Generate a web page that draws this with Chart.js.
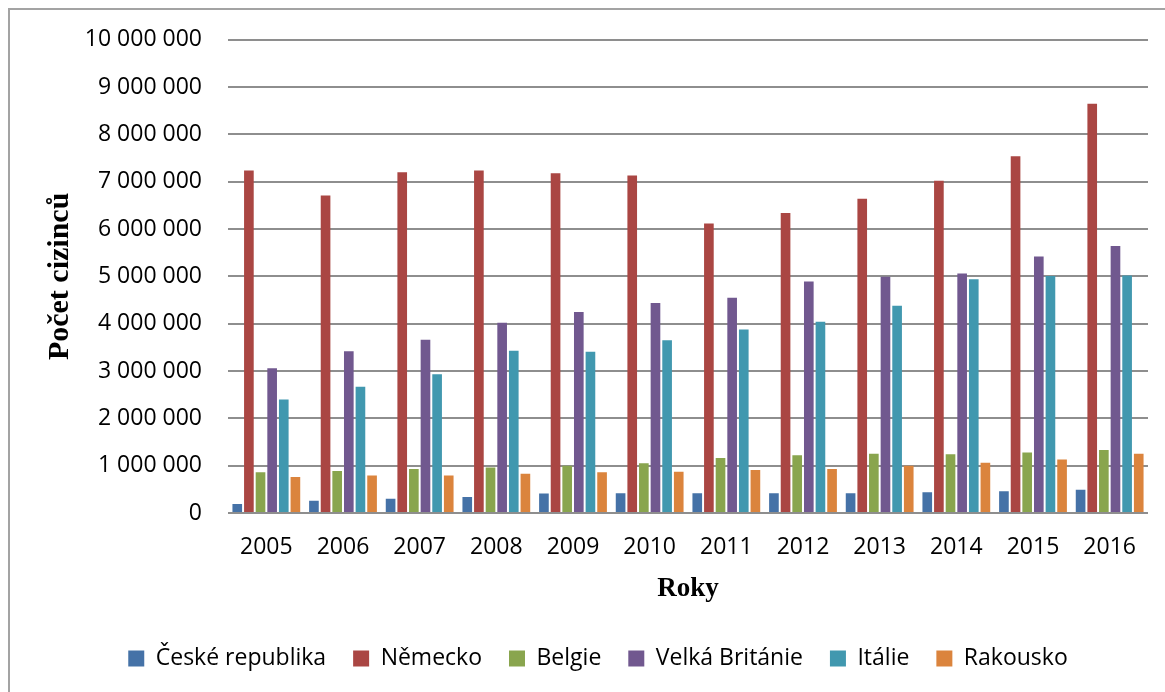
<!DOCTYPE html>
<html>
<head>
<meta charset="utf-8">
<script src="https://cdn.jsdelivr.net/npm/chart.js@4.4.1/dist/chart.umd.min.js"></script>
<style>
  html, body { margin: 0; padding: 0; background: #fff; }
  #wrap { position: relative; width: 1165px; height: 692px; overflow: hidden; }
  #frame { position: absolute; left: 8px; top: 8px; width: 1300px; height: 900px;
           border-left: 2px solid #a3a3a3; border-top: 2px solid #a3a3a3; }
  canvas { position: absolute; left: 0; top: 0; }
</style>
</head>
<body>
<div id="wrap">
  <div id="frame"></div>
  <canvas id="c" width="1165" height="692"></canvas>
</div>
<script>
const years = ['2005','2006','2007','2008','2009','2010','2011','2012','2013','2014','2015','2016'];
const seriesNames = ['České republika','Německo','Belgie','Velká Británie','Itálie','Rakousko'];
const ceskaRepublika = [190000, 260000, 300000, 340000, 410000, 420000, 420000, 420000, 420000, 440000, 460000, 490000];
const nemecko = [7240000, 6710000, 7200000, 7240000, 7180000, 7130000, 6120000, 6340000, 6640000, 7020000, 7540000, 8650000];
const belgie = [860000, 890000, 930000, 960000, 1000000, 1050000, 1160000, 1220000, 1250000, 1240000, 1280000, 1330000];
const velkaBritanie = [3060000, 3420000, 3660000, 4020000, 4250000, 4440000, 4550000, 4890000, 4990000, 5060000, 5420000, 5640000];
const italie = [2400000, 2670000, 2930000, 3430000, 3410000, 3650000, 3880000, 4040000, 4380000, 4940000, 5010000, 5020000];
const rakousko = [760000, 790000, 790000, 830000, 860000, 870000, 910000, 930000, 1000000, 1060000, 1130000, 1250000];
const yTicks = [0,1000000,2000000,3000000,4000000,5000000,6000000,7000000,8000000,9000000,10000000];

const colors = ['#4572A7','#AA4643','#89A54E','#71588F','#4198AF','#DB843D'];
const values = [ceskaRepublika, nemecko, belgie, velkaBritanie, italie, rakousko];

const fmt = v => String(v).replace(/\B(?=(\d{3})+(?!\d))/g, ' ');

const shiftLegend = {
  id: 'shiftLegend',
  afterLayout(chart) {
    const lg = chart.legend;
    if (lg) { lg.left += 24; lg.right += 24; }
  }
};

new Chart(document.getElementById('c'), {
  type: 'bar',
  data: {
    labels: years,
    datasets: seriesNames.map((n, i) => ({
      label: n,
      data: values[i],
      backgroundColor: colors[i],
      borderWidth: 0,
      categoryPercentage: 0.91,
      barPercentage: 0.83
    }))
  },
  plugins: [shiftLegend],
  options: {
    responsive: false,
    animation: false,
    layout: { padding: { left: 0, right: 17, top: 39, bottom: 12 } },
    plugins: {
      tooltip: { enabled: false },
      legend: {
        position: 'bottom',
        labels: {
          font: { family: '"Open Sans", "Noto Sans", sans-serif', size: 23 },
          color: '#000',
          boxWidth: 16,
          boxHeight: 16,
          padding: 27
        }
      }
    },
    scales: {
      x: {
        grid: { display: false, drawTicks: false },
        border: { display: false },
        ticks: {
          font: { family: '"Open Sans", "Noto Sans", sans-serif', size: 23 },
          color: '#000',
          padding: 21,
          maxRotation: 0
        },
        title: {
          display: true,
          text: 'Roky',
          font: { family: '"Liberation Serif", "Times New Roman", serif', size: 27, weight: 'bold' },
          color: '#000',
          padding: { top: 0, bottom: 15 }
        },
        afterFit: s => { s.height = 107; }
      },
      y: {
        min: 0,
        max: 10000000,
        afterBuildTicks: s => { s.ticks = yTicks.map(v => ({ value: v })); },
        grid: { color: '#8e8e8e', lineWidth: 2, drawTicks: false },
        border: { display: false },
        ticks: {
          font: { family: '"Open Sans", "Noto Sans", sans-serif', size: 23 },
          color: '#000',
          padding: 26,
          callback: v => fmt(v)
        },
        title: {
          display: true,
          text: 'Počet cizinců',
          font: { family: '"Liberation Serif", "Times New Roman", serif', size: 30, weight: 'bold' },
          color: '#000',
          padding: { top: 42, bottom: 0 }
        },
        afterFit: s => { s.width = 228; }
      }
    }
  }
});
</script>
</body>
</html>
